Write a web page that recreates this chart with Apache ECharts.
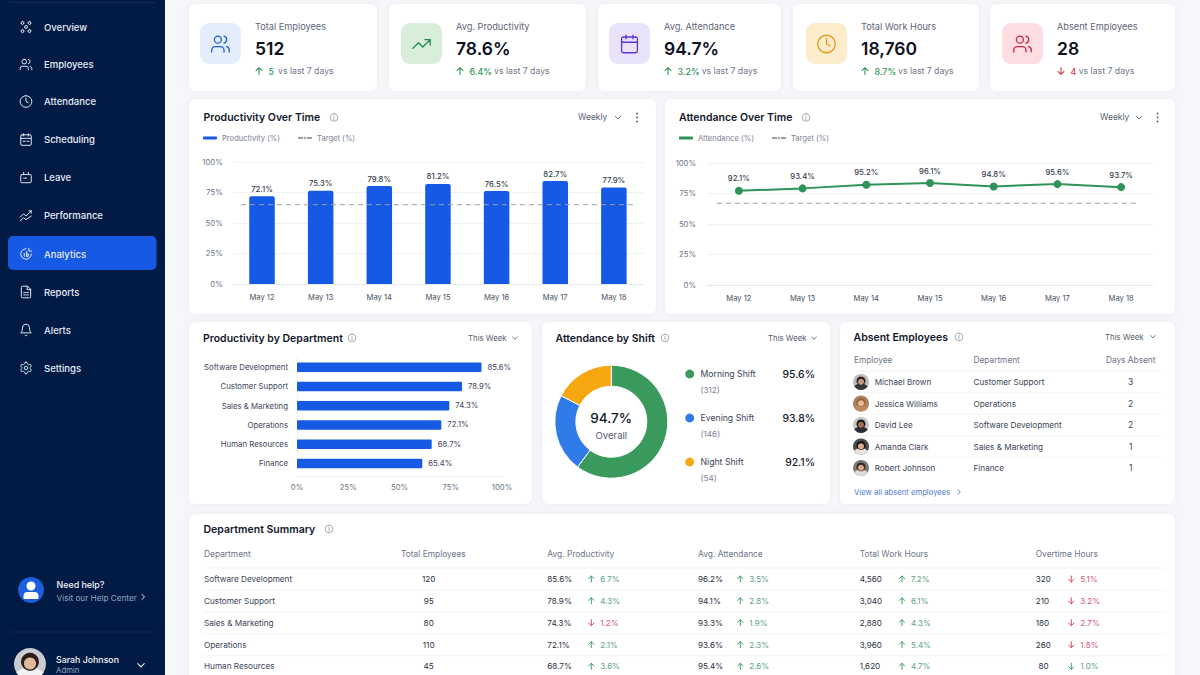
<!DOCTYPE html>
<html>
<head>
<meta charset="UTF-8">
<style>html,body{margin:0;padding:0;background:#f5f7fb}#main{width:1200px;height:675px}</style>
<script src="https://cdn.jsdelivr.net/npm/echarts@6/dist/echarts.min.js"></script>
</head>
<body>
<div id="main"></div>
<script>
// chart data
// the printed labels do not always agree with the drawn heights, so both are read off the picture
var days = ['May 12', 'May 13', 'May 14', 'May 15', 'May 16', 'May 17', 'May 18'];
var productivityHeights = [72, 76.5, 80.3, 82, 76.2, 84.4, 79];
var productivityLabels = ['72.1%', '75.3%', '79.8%', '81.2%', '76.5%', '82.7%', '77.9%'];
var productivityTarget = [65, 65];
var attendanceHeights = [77.2, 79.2, 82.2, 83.6, 80.8, 82.7, 80.2];
var attendanceLabels = ['92.1%', '93.4%', '95.2%', '96.1%', '94.8%', '95.6%', '93.7%'];
var attendanceTarget = [67, 67];
var departments = ['Software Development', 'Customer Support', 'Sales & Marketing', 'Operations', 'Human Resources', 'Finance'];
var departmentLengths = [90, 80.5, 74.3, 70.4, 65.7, 61.1];
var departmentLabels = ['85.6%', '78.9%', '74.3%', '72.1%', '68.7%', '65.4%'];
var shiftNames = ['Morning Shift', 'Evening Shift', 'Night Shift'];
var shiftShare = [60.2, 22.4, 17.4];
var shiftCounts = ['(312)', '(146)', '(54)'];
var shiftRates = ['95.6%', '93.8%', '92.1%'];

// page text
var navItems = ['Overview', 'Employees', 'Attendance', 'Scheduling', 'Leave', 'Performance', 'Analytics', 'Reports', 'Alerts', 'Settings'];
var kpiLabels = ['Total Employees', 'Avg. Productivity', 'Avg. Attendance', 'Total Work Hours', 'Absent Employees'];
var kpiValues = ['512', '78.6%', '94.7%', '18,760', '28'];
var kpiChanges = ['5', '6.4%', '3.2%', '8.7%', '4'];
var absentNames = ['Michael Brown', 'Jessica Williams', 'David Lee', 'Amanda Clark', 'Robert Johnson'];
var absentDepts = ['Customer Support', 'Operations', 'Software Development', 'Sales & Marketing', 'Finance'];
var absentDays = ['3', '2', '2', '1', '1'];
var summaryDepts = ['Software Development', 'Customer Support', 'Sales & Marketing', 'Operations', 'Human Resources'];
var summaryStaff = ['120', '95', '80', '110', '45'];
var summaryProd = ['85.6%', '78.9%', '74.3%', '72.1%', '68.7%'];
var summaryProdChange = ['+6.7%', '+4.3%', '-1.2%', '+2.1%', '+3.6%'];
var summaryAtt = ['96.2%', '94.1%', '93.3%', '93.6%', '95.4%'];
var summaryAttChange = ['+3.5%', '+2.8%', '+1.9%', '+2.3%', '+2.6%'];
var summaryHours = ['4,560', '3,040', '2,880', '3,960', '1,620'];
var summaryHoursChange = ['+7.2%', '+6.1%', '+4.3%', '+5.4%', '+4.7%'];
var summaryOver = ['320', '210', '180', '260', '80'];
var summaryOverChange = ['-5.1%', '-3.2%', '-2.7%', '-1.8%', '-1.0%'];

var FONT = 'Inter, "Noto Sans", sans-serif';
var BLUE = '#1659e4', GREEN = '#2f9459', RED = '#d23a50', INK = '#12182b', BODY = '#3d4558', MUTED = '#6d7587';

var ICONS = {
	overview: 'M6 2.5a2.5 2.5 0 1 0 0 5a2.5 2.5 0 0 0 0-5 M18 2.5a2.5 2.5 0 1 0 0 5a2.5 2.5 0 0 0 0-5 M6 16.5a2.5 2.5 0 1 0 0 5a2.5 2.5 0 0 0 0-5 M18 16.5a2.5 2.5 0 1 0 0 5a2.5 2.5 0 0 0 0-5 M12 9.5a2.5 2.5 0 1 0 0 5a2.5 2.5 0 0 0 0-5',
	users: 'M16 21v-2a4 4 0 0 0-4-4H6a4 4 0 0 0-4 4v2 M9 3a4 4 0 1 0 0 8a4 4 0 0 0 0-8 M22 21v-2a4 4 0 0 0-3-3.87 M16 3.13a4 4 0 0 1 0 7.75',
	clock: 'M12 2a10 10 0 1 0 0 20a10 10 0 0 0 0-20 M12 6v6l4 2',
	calendar: 'M8 2v4 M16 2v4 M5 4h14a2 2 0 0 1 2 2v14a2 2 0 0 1-2 2H5a2 2 0 0 1-2-2V6a2 2 0 0 1 2-2z M3 10h18',
	schedule: 'M8 2v4 M16 2v4 M5 4h14a2 2 0 0 1 2 2v14a2 2 0 0 1-2 2H5a2 2 0 0 1-2-2V6a2 2 0 0 1 2-2z M3 10h18 M7 15h4 M14 15h3',
	leave: 'M8 3v3 M16 3v3 M5 7h14a2 2 0 0 1 2 2v10a2 2 0 0 1-2 2H5a2 2 0 0 1-2-2V9a2 2 0 0 1 2-2z M8 13h5',
	perf: 'M2 15l6-6l4 4l9-9 M17 4h4v4 M2 21l6-5l4 3l9-6',
	trend: 'M22 7L13.5 15.5L8.5 10.5L2 17 M16 7h6v6',
	analytics: 'M12 3a9 9 0 1 0 9 9 M17 2v5h5 M9 11v5 M13 8v8 M13 12h3v4h-3',
	reports: 'M14 2H6a2 2 0 0 0-2 2v16a2 2 0 0 0 2 2h12a2 2 0 0 0 2-2V8z M14 2v6h6 M8 13h3 M13 13h3 M8 17h3 M13 17h3',
	bell: 'M6 8a6 6 0 0 1 12 0c0 7 3 9 3 9H3s3-2 3-9 M10.3 21a1.94 1.94 0 0 0 3.4 0',
	gear: 'M12 15a3 3 0 1 0 0-6a3 3 0 0 0 0 6 M12.22 2h-.44a2 2 0 0 0-2 2v.18a2 2 0 0 1-1 1.73l-.43.25a2 2 0 0 1-2 0l-.15-.08a2 2 0 0 0-2.73.73l-.22.38a2 2 0 0 0 .73 2.73l.15.1a2 2 0 0 1 1 1.72v.51a2 2 0 0 1-1 1.74l-.15.09a2 2 0 0 0-.73 2.73l.22.38a2 2 0 0 0 2.73.73l.15-.08a2 2 0 0 1 2 0l.43.25a2 2 0 0 1 1 1.73V20a2 2 0 0 0 2 2h.44a2 2 0 0 0 2-2v-.18a2 2 0 0 1 1-1.73l.43-.25a2 2 0 0 1 2 0l.15.08a2 2 0 0 0 2.73-.73l.22-.39a2 2 0 0 0-.73-2.73l-.15-.08a2 2 0 0 1-1-1.74v-.5a2 2 0 0 1 1-1.74l.15-.09a2 2 0 0 0 .73-2.73l-.22-.38a2 2 0 0 0-2.73-.73l-.15.08a2 2 0 0 1-2 0l-.43-.25a2 2 0 0 1-1-1.73V4a2 2 0 0 0-2-2z',
	up: 'M12 21V3 M4 11l8-8l8 8',
	down: 'M12 3v18 M4 13l8 8l8-8',
	chevDown: 'M5 9l7 7l7-7',
	chevRight: 'M9 5l7 7l-7 7',
	info: 'M12 2a10 10 0 1 0 0 20a10 10 0 0 0 0-20 M12 11v6 M12 7.5v.5'
};
for (var key in ICONS) {
	echarts.graphic.registerShape('icon_' + key, echarts.graphic.extendPath(ICONS[key], {}));
}

var els = [];
function txt(x, y, s, size, color, weight, align) {
	els.push({ type: 'text', x: x, y: y, z: -5, silent: true, style: {
		text: s, fontFamily: FONT, fontSize: size, fontWeight: weight || 400, fill: color,
		align: align || 'left', verticalAlign: 'middle', textAlign: align || 'left', textVerticalAlign: 'middle'
	} });
}
function box(x, y, w, h, r, fill, extra) {
	var st = { fill: fill };
	for (var k in extra) { st[k] = extra[k]; }
	els.push({ type: 'rect', z: -8, silent: true, shape: { x: x, y: y, width: w, height: h, r: r }, style: st });
}
function card(x, y, w, h) {
	box(x, y, w, h, 7, '#ffffff', { shadowBlur: 6, shadowColor: 'rgba(30,50,90,0.05)' });
}
function line(x1, y1, x2, y2, color) {
	els.push({ type: 'line', z: -7, silent: true, shape: { x1: x1, y1: y1, x2: x2, y2: y2 }, style: { stroke: color, lineWidth: 1 } });
}
function dot(x, y, r, color) {
	els.push({ type: 'circle', z: -6, silent: true, shape: { cx: x, cy: y, r: r }, style: { fill: color } });
}
function icon(name, cx, cy, size, color, lw) {
	var s = size / 24;
	els.push({ type: 'icon_' + name, z: -5, silent: true, x: cx - size / 2, y: cy - size / 2, scaleX: s, scaleY: s,
		style: { fill: 'none', stroke: color, lineWidth: lw / s, lineCap: 'round', lineJoin: 'round' } });
}
function avatar(cx, cy, r, bg, hair, skin, cloth) {
	dot(cx, cy, r, bg);
	els.push({ type: 'sector', z: -6, silent: true, shape: { cx: cx, cy: cy, r: r, r0: 0, startAngle: 0.55, endAngle: 2.6, clockwise: true }, style: { fill: cloth } });
	dot(cx, cy - r * 0.14, r * 0.56, hair);
	dot(cx, cy - r * 0.03, r * 0.38, skin);
}
function cardTitle(x, y, s, infoX) {
	txt(x, y, s, 10.5, INK, 600);
	icon('info', infoX, y, 9, '#8b92a0', 0.8);
}
function picker(x, y, s, chevX) {
	txt(x, y, s, 7.8, '#555d6e', 400);
	icon('chevDown', chevX, y, 8, '#555d6e', 0.9);
}

// sidebar
box(0, 0, 165, 675, 0, '#021b45');
line(9, 2.5, 156, 2.5, '#10294f');
box(8, 236, 148.5, 34, 5, BLUE);
var navY = [27, 64.5, 101.5, 139.5, 177.5, 215.5, 254, 292, 330, 368];
var navIcons = ['overview', 'users', 'clock', 'schedule', 'leave', 'perf', 'analytics', 'reports', 'bell', 'gear'];
navItems.forEach(function (name, i) {
	icon(navIcons[i], 26, navY[i], 14, '#dfe6f2', 1);
	txt(44, navY[i], name, 9.5, '#e6ebf4', 500);
});
dot(31, 590, 13, '#1c5fdc');
dot(31, 586, 4.5, '#ffffff');
els.push({ type: 'rect', z: -5, silent: true, shape: { x: 23.5, y: 592, width: 15, height: 7, r: [4, 4, 1, 1] }, style: { fill: '#ffffff' } });
txt(56.5, 584, 'Need help?', 8.9, '#f2f5fa', 500);
txt(56.5, 598, 'Visit our Help Center', 8.2, '#93a3bd');
icon('chevRight', 143, 597, 9, '#dfe6f2', 1);
line(10, 632, 156, 632, '#12294f');
avatar(30, 664, 16, '#c9ccd0', '#2b1d18', '#e2b89d', '#f2f2f2');
txt(56, 659, 'Sarah Johnson', 8.8, '#f2f5fa', 500);
txt(56, 669.5, 'Admin', 7.8, '#93a3bd');
icon('chevDown', 141, 665, 11, '#eef2f8', 1.1);

// KPI cards
var kpiBoxes = [[189, 188], [389, 197], [598, 183], [793, 186], [990, 185]];
var kpiIconX = [200, 401, 609, 806, 1002];
var kpiTextX = [255, 456, 664, 861, 1057];
var kpiVsOffset = [23, 38, 37.7, 37, 21.7];
var kpiTint = ['#e4edfb', '#d8eedb', '#e9e2fb', '#fdeccb', '#fcdde1'];
var kpiColor = ['#1d5fd6', '#1f8a45', '#5b35d5', '#e09a10', '#cf2340'];
var kpiIcon = ['users', 'trend', 'calendar', 'clock', 'users'];
kpiLabels.forEach(function (label, i) {
	card(kpiBoxes[i][0], 4, kpiBoxes[i][1], 87);
	box(kpiIconX[i], 23, 41, 41, 9, kpiTint[i]);
	icon(kpiIcon[i], kpiIconX[i] + 20.5, 44, 21, kpiColor[i], 1.3);
	txt(kpiTextX[i], 26, label, 9.2, '#5d6577');
	txt(kpiTextX[i], 48, kpiValues[i], 17.5, '#0c1020', 600);
	var down = i === 4, c = down ? RED : GREEN;
	icon(down ? 'down' : 'up', kpiTextX[i] + 4, 71, 9, c, 1.1);
	txt(kpiTextX[i] + 13.5, 71, kpiChanges[i], 8.8, c, 500);
	txt(kpiTextX[i] + kpiVsOffset[i], 71, 'vs last 7 days', 8.7, MUTED);
});

// chart cards
card(189, 99, 467, 215);
card(665, 99, 510, 215);
card(189, 322, 343, 182);
card(542, 322, 288, 182);
card(840, 322, 335, 182);
card(189, 514, 986, 175);

cardTitle(203.5, 117.5, 'Productivity Over Time', 334);
txt(578, 117, 'Weekly', 8.5, '#555d6e');
icon('chevDown', 618, 117.5, 9, '#555d6e', 0.9);
[113.5, 117.5, 121.5].forEach(function (y) { dot(637, y, 0.9, '#555d6e'); });
cardTitle(679, 117.5, 'Attendance Over Time', 806);
txt(1100, 117, 'Weekly', 8.5, '#555d6e');
icon('chevDown', 1139, 117.5, 9, '#555d6e', 0.9);
[113.5, 117.5, 121.5].forEach(function (y) { dot(1157.5, y, 0.9, '#555d6e'); });
cardTitle(203, 338, 'Productivity by Department', 352);
picker(468, 338, 'This Week', 515);
cardTitle(555.5, 338, 'Attendance by Shift', 665);
picker(768, 338, 'This Week', 814);
cardTitle(853.5, 337, 'Absent Employees', 959);
picker(1105, 336.5, 'This Week', 1153);

// donut centre and legend list
txt(611.3, 417.5, '94.7%', 13.5, INK, 500, 'center');
txt(611.3, 435, 'Overall', 9.6, '#555d6e', 400, 'center');
var shiftColors = ['#3a9a5e', '#2f7be8', '#f7a70f'];
var shiftY = [374, 418, 462];
shiftNames.forEach(function (name, i) {
	dot(689.7, shiftY[i], 4.4, shiftColors[i]);
	txt(700.5, shiftY[i], name, 8.7, '#3d4558');
	txt(700.5, shiftY[i] + 15.5, shiftCounts[i], 8.2, '#7b8394');
	txt(815, shiftY[i], shiftRates[i], 10.4, INK, 500, 'right');
});

// absent employees table
txt(854, 360, 'Employee', 8.3, MUTED);
txt(973.5, 360, 'Department', 8.3, MUTED);
txt(1130.7, 360, 'Days Absent', 8.3, MUTED, 400, 'center');
var absentY = [382, 403.5, 425, 446.5, 468];
var faces = [
	['#b9bcc0', '#2a211c', '#c79a7d', '#35363c'],
	['#a9825f', '#9a6236', '#e5b898', '#c28a5e'],
	['#c5c7c8', '#1d1a18', '#9f7154', '#2c2d33'],
	['#4b4a4c', '#1c1615', '#dcae92', '#e8e4df'],
	['#7f7a76', '#3a2720', '#d8a98c', '#e0dcd6']
];
absentNames.forEach(function (name, i) {
	var y = absentY[i], f = faces[i];
	avatar(861, y, 8, f[0], f[1], f[2], f[3]);
	txt(874.7, y, name, 8.1, BODY);
	txt(973.5, y, absentDepts[i], 8.2, BODY);
	txt(1130.7, y, absentDays[i], 8.5, BODY, 400, 'center');
	if (i < 4) { line(854, y + 10.7, 1162, y + 10.7, '#f3f5f8'); }
});
line(854, 371, 1162, 371, '#f0f2f6');
txt(854, 492, 'View all absent employees', 7.7, '#4f78d2');
icon('chevRight', 959, 492, 8, '#4f78d2', 0.9);

// department summary table
cardTitle(203.5, 529, 'Department Summary', 329);
var headers = [['Department', 204], ['Total Employees', 401], ['Avg. Productivity', 547.3], ['Avg. Attendance', 698], ['Total Work Hours', 859.7], ['Overtime Hours', 1035.7]];
headers.forEach(function (h) { txt(h[1], 554, h[0], 8.4, MUTED); });
var rowY = [579, 600.8, 622.7, 644.7, 666.3];
function delta(x, y, s, forceColor) {
	var isDown = s.charAt(0) === '-';
	var bad = isDown && !forceColor;
	icon(isDown ? 'down' : 'up', x, y, 8, bad ? RED : GREEN, 0.9);
	txt(x + 9, y, s.slice(1), 8, bad ? '#d25a6e' : '#5ea27f');
}
summaryDepts.forEach(function (name, i) {
	var y = rowY[i];
	txt(204, y, name, 8.2, BODY);
	txt(428.7, y, summaryStaff[i], 8.2, '#2a3040', 400, 'center');
	txt(547.3, y, summaryProd[i], 8.1, '#2a3040');
	delta(591.3, y, summaryProdChange[i]);
	txt(698, y, summaryAtt[i], 8.1, '#2a3040');
	delta(740.3, y, summaryAttChange[i]);
	txt(859.7, y, summaryHours[i], 8.1, '#2a3040');
	delta(902, y, summaryHoursChange[i]);
	txt(i === 4 ? 1038.5 : 1035.7, y, summaryOver[i], 8.1, '#2a3040');
	delta(1071.3, y, summaryOverChange[i], i === 4);
	line(204, y + 11, 1165, y + 11, '#f2f4f7');
});
line(204, 568, 1165, 568, '#f0f2f6');

var chart = echarts.init(document.getElementById('main'), null, { renderer: 'svg' });

function pctAxis(gridIndex, margin) {
	return {
		type: 'value', gridIndex: gridIndex, min: 0, max: 100, interval: 25,
		axisLine: { show: false }, axisTick: { show: false },
		axisLabel: { formatter: '{value}%', fontFamily: FONT, fontSize: 7.7, color: MUTED, margin: margin },
		splitLine: { lineStyle: { color: '#eff1f5', width: 1 } }
	};
}
function dayAxis(gridIndex) {
	return {
		type: 'category', gridIndex: gridIndex, data: days,
		axisLine: { lineStyle: { color: '#e3e6eb' } }, axisTick: { show: false },
		axisLabel: { fontFamily: FONT, fontSize: 7.6, color: '#4a5263', margin: 9 }
	};
}
function hiddenAxis(gridIndex) {
	return { type: 'value', gridIndex: gridIndex, min: 0, max: 100, show: false, splitLine: { show: false } };
}
function legendAt(left, first) {
	return {
		left: left, top: 134, padding: 0, itemWidth: 14, itemHeight: 3, itemGap: 17, selectedMode: false,
		textStyle: { fontFamily: FONT, fontSize: 7.6, color: '#7a8292' },
		data: [{ name: first, icon: 'roundRect' }, { name: 'Target (%)' }]
	};
}
var targetStyle = { color: '#9a9fa8', width: 1, type: [5, 4] };

chart.setOption({
	animation: false,
	backgroundColor: '#f5f7fb',
	textStyle: { fontFamily: FONT },
	graphic: { elements: els },
	legend: [legendAt(203, 'Productivity (%)'), legendAt(679, 'Attendance (%)')],
	grid: [
		{ left: 232.7, top: 162, width: 410.5, height: 122 },
		{ left: 707, top: 163, width: 446, height: 122 },
		{ left: 297, top: 357.5, width: 205, height: 115.5 }
	],
	xAxis: [
		dayAxis(0),
		hiddenAxis(0),
		dayAxis(1),
		hiddenAxis(1),
		{
			type: 'value', gridIndex: 2, min: 0, max: 100, interval: 25, offset: 3,
			axisLine: { show: true, lineStyle: { color: '#eff1f5' } }, axisTick: { show: false },
			axisLabel: { formatter: '{value}%', fontFamily: FONT, fontSize: 7.7, color: MUTED, margin: 7 },
			splitLine: { show: false }
		}
	],
	yAxis: [
		pctAxis(0, 10),
		pctAxis(1, 11),
		{
			type: 'category', gridIndex: 2, inverse: true, data: departments,
			axisLine: { lineStyle: { color: '#eff1f5' } }, axisTick: { show: false },
			axisLabel: { fontFamily: FONT, fontSize: 7.8, color: BODY, margin: 9 }
		}
	],
	series: [
		{
			name: 'Productivity (%)', type: 'bar', xAxisIndex: 0, yAxisIndex: 0, data: productivityHeights, barWidth: 25.5,
			itemStyle: { color: BLUE, borderRadius: [2, 2, 0, 0] },
			label: {
				show: true, position: 'top', distance: 3, fontFamily: FONT, fontSize: 7.7, fontWeight: 500, color: '#333a4b',
				formatter: function (p) { return productivityLabels[p.dataIndex]; }
			}
		},
		{
			name: 'Target (%)', type: 'line', xAxisIndex: 1, yAxisIndex: 0, symbol: 'none', z: 5,
			data: [[2, productivityTarget[0]], [98, productivityTarget[1]]], lineStyle: targetStyle, itemStyle: { color: '#9a9fa8' }
		},
		{
			name: 'Attendance (%)', type: 'line', xAxisIndex: 2, yAxisIndex: 1, data: attendanceHeights, symbol: 'circle', symbolSize: 8,
			lineStyle: { color: GREEN, width: 2 }, itemStyle: { color: GREEN },
			label: {
				show: true, position: 'top', distance: 4, fontFamily: FONT, fontSize: 7.7, fontWeight: 500, color: '#333a4b',
				formatter: function (p) { return attendanceLabels[p.dataIndex]; }
			}
		},
		{
			name: 'Target (%)', type: 'line', xAxisIndex: 3, yAxisIndex: 1, symbol: 'none',
			data: [[2.2, attendanceTarget[0]], [97, attendanceTarget[1]]], lineStyle: targetStyle, itemStyle: { color: '#9a9fa8' }
		},
		{
			type: 'bar', xAxisIndex: 4, yAxisIndex: 2, data: departmentLengths, barWidth: 9.5,
			itemStyle: { color: BLUE, borderRadius: 1 },
			label: {
				show: true, position: 'right', distance: 6, fontFamily: FONT, fontSize: 7.7, color: BODY,
				formatter: function (p) { return departmentLabels[p.dataIndex]; }
			}
		},
		{
			type: 'pie', center: [611.3, 421.7], radius: [35.5, 56.5], startAngle: 90, label: { show: false }, labelLine: { show: false },
			silent: true, itemStyle: { borderColor: '#ffffff', borderWidth: 1 },
			data: shiftNames.map(function (name, i) {
				return { name: name, value: shiftShare[i], itemStyle: { color: shiftColors[i] } };
			})
		}
	]
});
</script>
</body>
</html>
